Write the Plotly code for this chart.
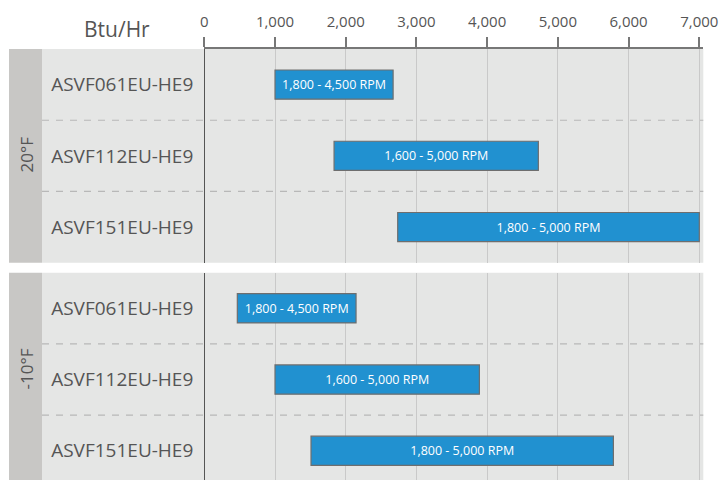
import plotly.graph_objects as go

# ---- data ----
models = ["ASVF061EU-HE9", "ASVF112EU-HE9", "ASVF151EU-HE9"]
rpm_labels = ["1,800 - 4,500 RPM", "1,600 - 5,000 RPM", "1,800 - 5,000 RPM"]
start_20 = [1000, 1835, 2735]
end_20 = [2670, 4724, 7000]
start_m10 = [467, 1000, 1509]
end_m10 = [2146, 3890, 5785]
panel_labels = ["20°F", "-10°F"]
x_ticks = [0, 1000, 2000, 3000, 4000, 5000, 6000, 7000]
x_ticktext = ["0", "1,000", "2,000", "3,000", "4,000", "5,000", "6,000", "7,000"]
unit_label = "Btu/Hr"

W, H = 720, 480
FONT = "Open Sans"
TXT = "#555555"
BLUE = "#2191d0"
LIGHT = "#e5e6e5"
DARK = "#c8c7c5"

def px(x):
    return x / W

def py(y):
    return 1 - y / H

x_dom = [px(204.3), px(703.3)]
x_rng = [0, 7056.6]
p1 = [py(262.7), py(49)]
p2 = [0, py(272.7)]
row_px = (262.7 - 49) / 3
p2_bottom = -0.5 + (480 - 272.7) / row_px

fig = go.Figure()
for i, (s, e, ya) in enumerate([(start_20, end_20, "y"), (start_m10, end_m10, "y2")]):
    fig.add_trace(go.Bar(
        orientation="h",
        y=list(range(len(models))),
        base=s,
        x=[b - a for a, b in zip(s, e)],
        width=0.41,
        marker=dict(color=BLUE, line=dict(color="#6e6e6e", width=1.2)),
        text=rpm_labels,
        textposition="inside",
        insidetextanchor="middle",
        textangle=0,
        textfont=dict(family=FONT, size=12.5, color="white"),
        xaxis="x" if i == 0 else "x2",
        yaxis=ya,
        hoverinfo="skip",
        showlegend=False,
    ))

shapes = []
for dom in (p1, p2):
    shapes.append(dict(type="rect", xref="paper", yref="paper", x0=px(42), x1=px(703.3),
                       y0=dom[0], y1=dom[1], fillcolor=LIGHT, line=dict(width=0), layer="below"))
    shapes.append(dict(type="rect", xref="paper", yref="paper", x0=px(9), x1=px(42),
                       y0=dom[0], y1=dom[1], fillcolor=DARK, line=dict(width=0), layer="below"))
for yref in ("y", "y2"):
    for yv in (0.5, 1.5):
        shapes.append(dict(type="line", xref="paper", yref=yref, x0=px(42), x1=px(703.3),
                           y0=yv, y1=yv, line=dict(color="#b8b8b8", width=1.2, dash="7px,7px"),
                           layer="below"))

annotations = [
    dict(text=unit_label, x=px(117), y=py(29), xref="paper", yref="paper", showarrow=False,
         xanchor="center", yanchor="middle", font=dict(family=FONT, size=21, color=TXT)),
    dict(text=panel_labels[0], x=px(25.5), y=py(155), xref="paper", yref="paper", showarrow=False,
         textangle=-90, xanchor="center", yanchor="middle", font=dict(family=FONT, size=17, color=TXT)),
    dict(text=panel_labels[1], x=px(25.5), y=py(369), xref="paper", yref="paper", showarrow=False,
         textangle=-90, xanchor="center", yanchor="middle", font=dict(family=FONT, size=17, color=TXT)),
]

xcommon = dict(range=x_rng, domain=x_dom, showgrid=True, gridcolor="#c9c9c9", gridwidth=1,
               zeroline=True, zerolinecolor="#555555", zerolinewidth=1, tickvals=x_ticks,
               ticktext=x_ticktext, fixedrange=True, automargin=False)
ycommon = dict(showgrid=False, zeroline=False, tickvals=[0, 1, 2], ticktext=models,
               tickfont=dict(family=FONT, size=19, color=TXT), ticks="", ticklabelstandoff=10,
               showline=False, automargin=False, fixedrange=True)

fig.update_layout(
    width=W, height=H,
    autosize=False,
    margin=dict(l=0, r=0, t=0, b=0, autoexpand=False),
    paper_bgcolor="white",
    plot_bgcolor="rgba(0,0,0,0)",
    barmode="overlay",
    xaxis=dict(**xcommon, anchor="y", side="top", showline=True, linecolor="#777777", linewidth=1.5,
               ticks="outside", ticklen=10, tickcolor="#777777", tickwidth=1.5, ticklabelstandoff=4,
               tickfont=dict(family=FONT, size=15, color=TXT)),
    xaxis2=dict(**xcommon, anchor="y2", showticklabels=False, showline=False),
    yaxis=dict(**ycommon, domain=p1, range=[2.5, -0.5], anchor="x"),
    yaxis2=dict(**ycommon, domain=p2, range=[p2_bottom, -0.5], anchor="x2"),
    shapes=shapes,
    annotations=annotations,
)

fig.write_html(
    "out.html",
    config={"responsive": False, "displayModeBar": False},
    post_script="document.body.style.margin='0';document.documentElement.style.overflow='hidden';document.body.style.overflow='hidden';",
)
